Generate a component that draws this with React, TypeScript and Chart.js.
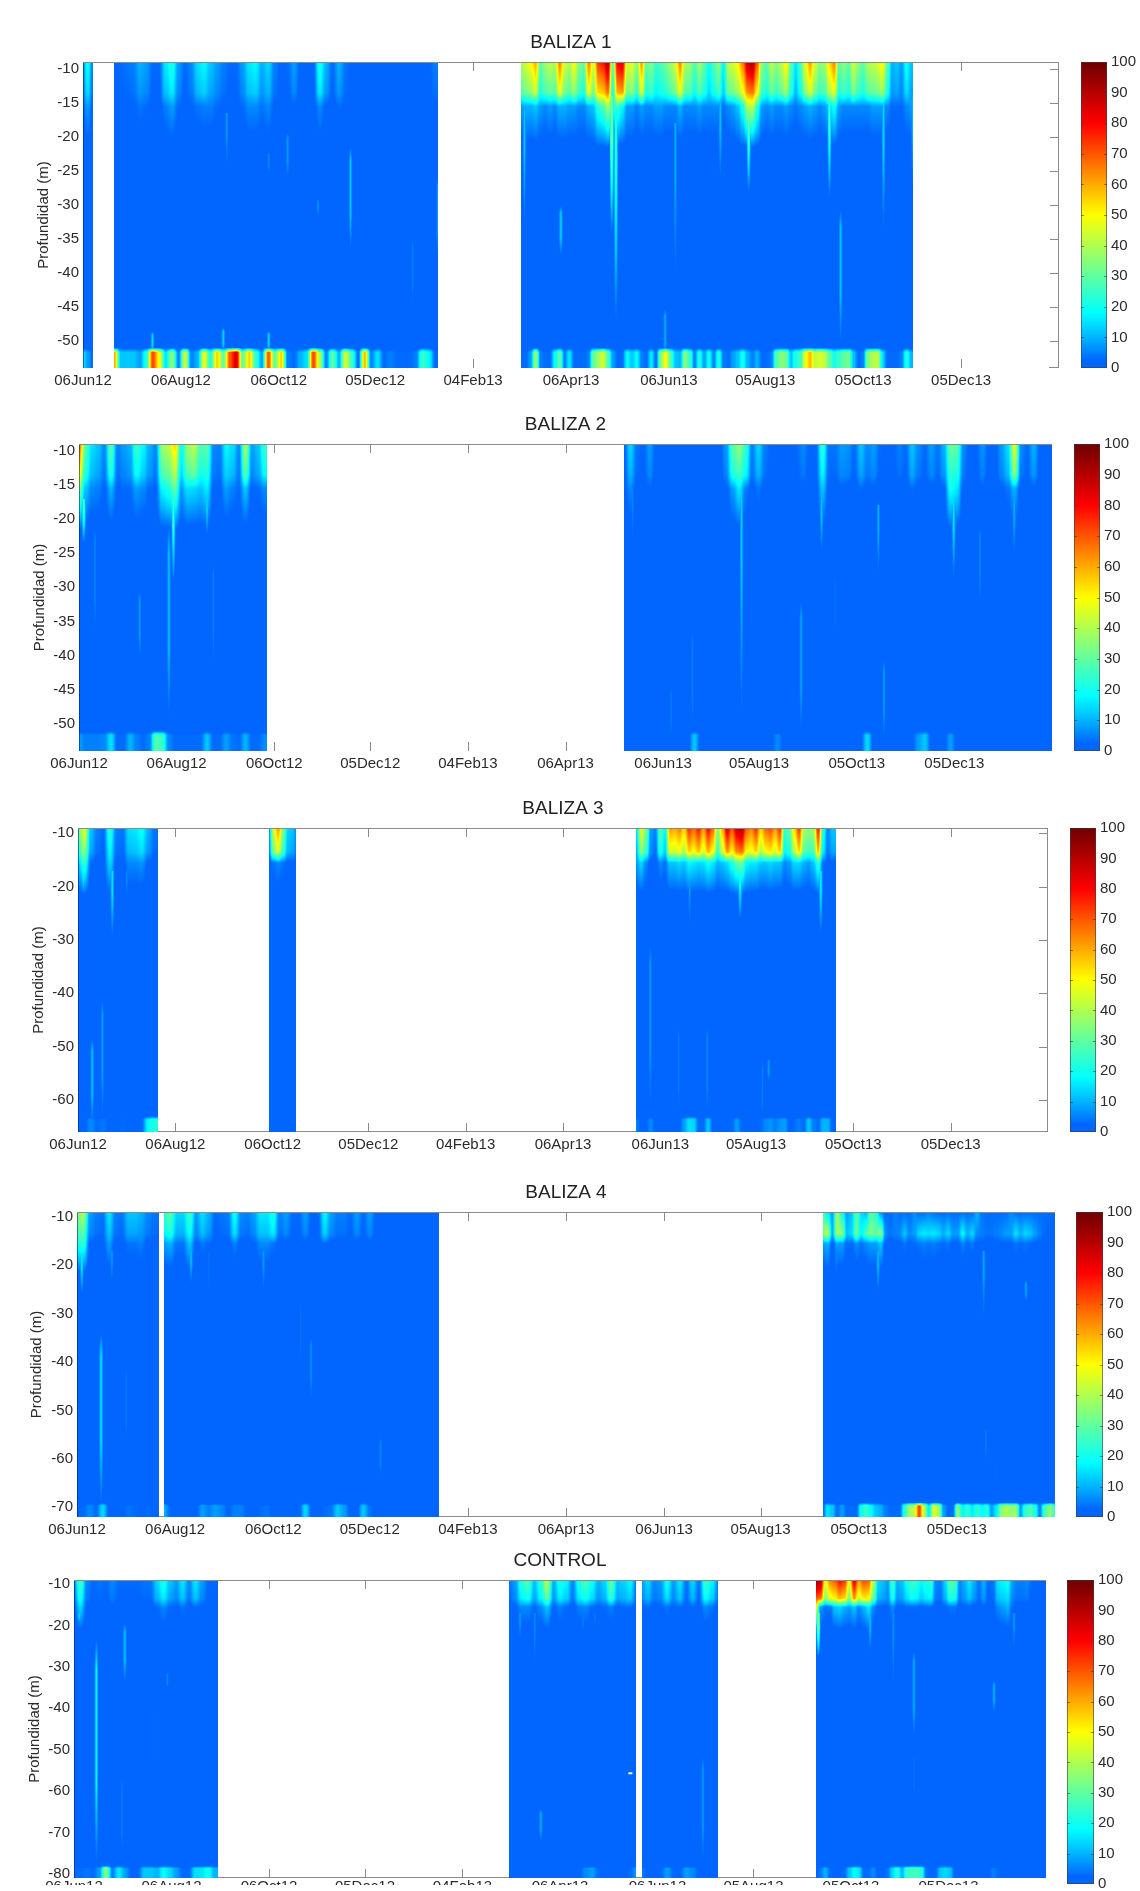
import React, { useEffect, useRef } from "react";
import { Chart, registerables } from "chart.js";

Chart.register(...registerables);

const FONT = "'Liberation Sans', Arial, sans-serif";
const TEXT = "#2b2b2b";
const FRAME = "#8a8a8a";

// ---- axes ----
const tickDays = [0, 61, 122, 182, 243, 304, 365, 425, 486, 547];
const tickDates = ["06Jun12", "06Aug12", "06Oct12", "05Dec12", "04Feb13", "06Apr13", "06Jun13", "05Aug13", "05Oct13", "05Dec13"];
const depthTicks5 = [-10, -15, -20, -25, -30, -35, -40, -45, -50];
const depthTicks10a = [-10, -20, -30, -40, -50, -60];
const depthTicks10b = [-10, -20, -30, -40, -50, -60, -70];
const depthTicks10c = [-10, -20, -30, -40, -50, -60, -70, -80];
const colorTicks = [0, 10, 20, 30, 40, 50, 60, 70, 80, 90, 100];

// ---- colour scale: [value, r, g, b] ----
const colorStops = [
  [0, 0, 102, 255], [2.5, 0, 102, 255], [10, 0, 180, 255], [18, 0, 255, 255], [34, 128, 255, 128],
  [50, 255, 255, 0], [65, 255, 128, 0], [80, 255, 0, 0], [100, 110, 0, 0],
];

// ---- BALIZA 1 ----
const b1aTop = [8, 20, 5];
const b1aUpper = [3, 8, 2];
const b1aFloor = [15, 8, 3];
const b1bTop = [2, 3, 4, 5, 10, 8, 3, 3, 16, 22, 8, 3, 6, 15, 18, 12, 8, 5, 3, 3, 8, 16, 18, 10, 14, 5, 2, 3, 8, 2, 2, 2, 22, 10, 3, 10, 4, 2, 2, 2, 2, 2, 2, 2, 2, 2, 2, 2, 2, 2, 5];
const b1bUpper = [1, 1, 2, 2, 4, 3, 1, 1, 5, 8, 3, 1, 2, 4, 5, 5, 3, 2, 1, 1, 3, 6, 6, 4, 6, 2, 1, 1, 2, 1, 1, 1, 6, 2, 1, 3, 2, 1, 1, 1, 1, 1, 1, 1, 1, 1, 1, 1, 1, 1, 2];
const b1bFloor = [60, 12, 12, 12, 8, 22, 72, 50, 15, 36, 5, 45, 5, 10, 48, 22, 55, 30, 70, 85, 30, 55, 25, 8, 70, 30, 55, 5, 3, 10, 15, 72, 40, 5, 30, 10, 45, 25, 3, 58, 5, 15, 3, 5, 3, 3, 3, 5, 25, 18, 3];
const b1bStreaks = [[127.5, -19, -27, 8], [166.7, -21, -38, 12], [89.6, -16.5, -27, 8], [115.7, -22, -26, 6], [146.4, -29, -32, 7], [43.3, -48.6, -52, 14], [87.4, -48, -52, 14], [115.7, -48.5, -52, 14], [205.3, -34, -47, 5], [221, -25, -40, 8]];
const b1cTop = [40, 45, 50, 60, 30, 38, 42, 40, 65, 45, 40, 50, 35, 30, 65, 45, 75, 78, 92, 30, 82, 85, 45, 48, 35, 62, 30, 35, 25, 28, 32, 38, 45, 65, 40, 38, 28, 38, 30, 20, 28, 36, 18, 42, 45, 52, 66, 88, 92, 70, 35, 30, 42, 35, 42, 52, 30, 15, 28, 48, 62, 45, 35, 38, 55, 65, 30, 36, 30, 45, 35, 30, 40, 42, 45, 52, 30, 10, 12, 8, 20, 12];
const b1cUpper = [8, 10, 10, 12, 8, 6, 8, 6, 10, 10, 8, 8, 6, 6, 10, 12, 24, 28, 38, 22, 26, 18, 8, 8, 5, 8, 6, 6, 8, 8, 6, 6, 6, 10, 6, 6, 6, 8, 6, 6, 6, 6, 4, 6, 8, 12, 22, 40, 42, 24, 8, 6, 8, 6, 6, 8, 6, 4, 6, 8, 10, 8, 6, 8, 14, 20, 8, 6, 6, 6, 6, 6, 6, 8, 8, 8, 6, 3, 3, 3, 6, 8];
const b1cFloor = [3, 3, 8, 38, 5, 3, 3, 18, 30, 5, 16, 3, 3, 3, 5, 30, 38, 45, 28, 8, 3, 3, 18, 12, 18, 5, 3, 16, 3, 35, 50, 28, 12, 10, 35, 25, 5, 22, 8, 20, 5, 22, 5, 3, 8, 12, 20, 10, 5, 10, 3, 3, 5, 28, 35, 32, 12, 22, 25, 48, 58, 42, 45, 42, 30, 20, 25, 30, 32, 12, 3, 5, 35, 40, 42, 15, 3, 3, 3, 5, 22, 10];
const b1cStreaks = [[329.4, -14, -35, 40], [332, -14, -50, 26], [414.7, -14, -29, 35], [465, -14, -30, 26], [297.7, -30, -38, 14], [397, -15, -28, 12], [369, -18, -45, 10], [362.6, -45, -54, 10], [472, -30, -52, 12], [498.7, -15, -36, 14], [275, -16, -35, 12], [517, -14, -30, 12]];

// ---- BALIZA 2 ----
const b2aTop = [70, 30, 15, 12, 6, 30, 5, 8, 10, 26, 18, 10, 6, 38, 42, 55, 20, 38, 42, 28, 30, 6, 5, 18, 15, 6, 40, 8, 12, 25];
const b2aUpper = [35, 12, 6, 5, 2, 10, 2, 3, 3, 8, 6, 3, 2, 18, 22, 30, 8, 15, 14, 12, 16, 2, 2, 8, 5, 3, 12, 2, 3, 6];
const b2aFloor = [8, 5, 5, 5, 6, 15, 3, 3, 10, 5, 3, 5, 28, 25, 6, 3, 3, 3, 3, 3, 12, 3, 3, 8, 4, 3, 10, 3, 3, 6];
const b2aStreaks = [[56.2, -20, -52, 12], [38, -30, -42, 8], [10, -20, -40, 6], [59, -17, -30, 25], [80, -17, -23, 15], [84, -25, -45, 5], [3, -17, -24, 30]];
const b2bTop = [2, 14, 4, 2, 8, 2, 1, 1, 1, 1, 1, 1, 1, 1, 1, 2, 8, 30, 36, 25, 5, 14, 5, 2, 1, 1, 1, 3, 6, 2, 3, 24, 4, 4, 8, 7, 3, 12, 6, 8, 3, 2, 2, 5, 3, 12, 6, 3, 8, 4, 10, 32, 30, 6, 2, 2, 7, 2, 2, 8, 15, 48, 6, 3, 10, 2, 2];
const b2bUpper = [1, 6, 1, 1, 2, 1, 0, 0, 0, 0, 0, 0, 0, 0, 0, 0, 2, 8, 16, 5, 1, 4, 1, 0, 0, 0, 0, 1, 1, 0, 1, 12, 1, 1, 2, 1, 0, 3, 1, 2, 0, 0, 0, 1, 0, 3, 1, 0, 1, 1, 2, 20, 16, 1, 0, 0, 2, 0, 0, 2, 4, 10, 1, 0, 2, 0, 0];
const b2bFloor = [1, 1, 1, 1, 1, 1, 1, 1, 1, 1, 1, 12, 1, 1, 1, 1, 1, 1, 1, 1, 1, 1, 1, 2, 6, 1, 1, 1, 1, 1, 1, 1, 1, 1, 1, 1, 1, 2, 14, 1, 1, 1, 1, 1, 1, 2, 8, 12, 2, 1, 1, 8, 1, 1, 1, 1, 1, 1, 1, 1, 1, 1, 1, 1, 1, 1, 1];
const b2bStreaks = [[414, -14, -54, 13], [451.2, -31, -54, 9], [499.5, -18, -30, 10], [464, -17, -26, 12], [546.6, -17, -30, 16], [563, -20, -35, 6], [383.3, -35, -54, 5], [503, -40, -54, 8], [472.4, -27, -40, 4], [370, -44, -54, 5], [584.4, -17, -27, 10], [346, -14, -27, 6]];

// ---- BALIZA 3 ----
const b3aTop = [30, 48, 12, 5, 3, 24, 5, 4, 15, 16, 20, 10, 4];
const b3aUpper = [12, 25, 3, 1, 1, 14, 2, 1, 6, 6, 7, 2, 1];
const b3aFloor = [2, 2, 6, 3, 4, 2, 2, 3, 2, 2, 3, 18, 22];
const b3aStreaks = [[3.3, -17, -22, 18], [21.5, -17, -31, 16], [8.9, -48, -66, 12], [15.3, -40, -66, 8], [30.6, -17, -24, 6]];
const b3bTop = [5, 45, 62, 35, 14, 12, 5];
const b3bUpper = [1, 4, 6, 4, 1, 2, 1];
const b3bFloor = [2, 2, 2, 2, 2, 2, 2];
const b3cTop = [15, 48, 35, 8, 5, 30, 18, 62, 60, 65, 55, 75, 68, 78, 62, 80, 68, 35, 60, 85, 70, 88, 92, 70, 65, 75, 55, 68, 72, 62, 75, 25, 30, 55, 74, 40, 36, 38, 78, 22, 6, 12];
const b3cUpper = [8, 14, 6, 1, 1, 6, 4, 12, 12, 14, 12, 18, 16, 14, 15, 20, 16, 10, 12, 15, 22, 30, 32, 18, 16, 16, 12, 12, 14, 12, 12, 6, 8, 14, 14, 10, 8, 12, 24, 4, 1, 2];
const b3cFloor = [5, 2, 2, 6, 2, 2, 2, 2, 2, 2, 8, 15, 14, 3, 3, 12, 2, 2, 2, 2, 3, 8, 3, 2, 2, 2, 3, 6, 7, 5, 7, 8, 2, 3, 5, 3, 12, 5, 3, 10, 10, 2];
const b3cStreaks = [[415, -17, -27, 22], [465.6, -17, -30, 18], [383.4, -17, -30, 8], [358.7, -29, -66, 8], [376.5, -45, -66, 5], [394.4, -45, -66, 6], [433, -52, -57, 8], [429, -52, -66, 5]];

// ---- BALIZA 4 ----
const b4aTop = [35, 40, 8, 5, 4, 16, 5, 4, 12, 12, 10, 6, 4];
const b4aUpper = [22, 24, 2, 1, 1, 8, 1, 1, 4, 4, 5, 1, 1];
const b4aFloor = [2, 3, 6, 3, 14, 2, 2, 2, 4, 3, 2, 3, 2];
const b4aStreaks = [[3, -17, -27, 18], [15, -33, -72, 16], [30.6, -40, -60, 5], [21.7, -17, -25, 8]];
const b4bTop = [24, 30, 14, 14, 26, 8, 15, 10, 3, 4, 5, 20, 6, 5, 8, 16, 16, 22, 5, 8, 3, 3, 8, 2, 3, 18, 8, 5, 5, 3, 8, 3, 8, 2, 2, 2, 2, 2, 2, 2, 2, 2, 2];
const b4bUpper = [8, 10, 4, 4, 12, 2, 4, 3, 1, 1, 1, 5, 1, 1, 2, 6, 6, 4, 1, 1, 1, 1, 1, 1, 1, 3, 1, 1, 1, 1, 1, 1, 1, 1, 1, 1, 1, 1, 1, 1, 1, 1, 1];
const b4bFloor = [10, 3, 1, 1, 1, 2, 8, 5, 8, 6, 2, 5, 5, 2, 2, 3, 4, 2, 1, 2, 1, 1, 14, 2, 1, 3, 4, 12, 8, 2, 1, 12, 4, 1, 1, 1, 1, 1, 1, 1, 1, 1, 2];
const b4bStreaks = [[70.9, -17, -25, 12], [145.5, -34, -50, 7], [139, -26, -45, 4], [188.6, -55, -65, 6], [116, -17, -27, 8], [82, -17, -35, 4]];
const b4cTop = [28, 15, 8, 38, 20, 8, 12, 28, 14, 10, 28, 24, 6, 3, 3, 5, 3, 3, 3, 6, 3, 3, 5, 3, 3, 3, 3, 3, 3, 3, 3, 3, 10, 4, 3, 3, 3, 3, 3, 6, 3, 3, 3, 3, 3, 3, 3, 3, 3];
const b4cBand = [35, 42, 10, 38, 36, 12, 14, 32, 18, 28, 34, 30, 36, 6, 4, 5, 6, 12, 6, 8, 14, 16, 15, 16, 14, 10, 14, 8, 8, 18, 10, 14, 6, 5, 4, 4, 5, 6, 8, 8, 15, 10, 14, 12, 8, 5, 3, 2, 2];
const b4cUpper = [8, 10, 2, 8, 8, 3, 3, 6, 4, 6, 8, 8, 12, 2, 1, 2, 2, 4, 2, 3, 4, 5, 4, 5, 4, 3, 4, 2, 2, 5, 3, 4, 2, 2, 1, 1, 2, 2, 2, 2, 4, 3, 4, 3, 2, 2, 1, 1, 1];
const b4cFloor = [3, 15, 12, 3, 8, 3, 3, 3, 20, 25, 18, 12, 10, 5, 3, 3, 3, 24, 38, 42, 72, 42, 16, 46, 40, 8, 3, 3, 36, 18, 24, 16, 24, 18, 22, 8, 16, 34, 40, 36, 38, 8, 24, 28, 22, 5, 26, 36, 26];
const b4cStreaks = [[498, -17, -27, 12], [563.7, -17, -34, 9], [590, -23, -28, 9], [565, -53, -62, 5], [571, -60, -66, 3], [472, -17, -24, 6]];

// ---- CONTROL ----
const c0aTop = [6, 28, 6, 3, 4, 3, 6, 3, 3, 3, 3, 4, 4, 14, 22, 12, 8, 16, 6, 16, 8, 3, 2];
const c0aUpper = [2, 14, 2, 1, 1, 1, 2, 1, 1, 1, 1, 1, 1, 3, 6, 3, 2, 4, 1, 3, 2, 1, 1];
const c0aFloor = [3, 3, 4, 3, 8, 36, 5, 16, 8, 2, 2, 12, 12, 10, 18, 14, 8, 3, 3, 15, 15, 20, 10];
const c0aStreaks = [[14, -22, -81, 18], [31.8, -19, -35, 12], [3.3, -17, -20, 15], [58.4, -31, -36, 6], [30, -55, -80, 5], [50.4, -38, -60, 3]];
const c0bTop = [4, 8, 24, 28, 12, 24, 42, 10, 22, 18, 6, 22, 28, 20, 10, 14, 32, 12, 14, 18, 4];
const c0bUpper = [1, 2, 6, 6, 3, 6, 12, 2, 5, 3, 1, 5, 6, 3, 2, 3, 5, 2, 3, 3, 1];
const c0bFloor = [2, 2, 2, 2, 2, 2, 2, 2, 2, 2, 2, 2, 6, 8, 3, 2, 2, 2, 2, 3, 8];
const c0bStreaks = [[288.2, -17, -35, 6], [279, -17, -25, 8], [292, -64, -73, 10], [318.3, -17, -25, 5], [325.9, -17, -22, 5]];
const c0cTop = [8, 14, 6, 8, 20, 8, 16, 4, 14, 4, 26, 18, 6];
const c0cUpper = [2, 3, 1, 2, 4, 2, 3, 1, 3, 1, 6, 4, 1];
const c0cFloor = [5, 2, 2, 2, 8, 3, 2, 8, 6, 2, 2, 2, 2];
const c0cStreaks = [[393.4, -50, -81, 8]];
const c0dTop = [96, 92, 48, 65, 70, 80, 75, 48, 85, 62, 72, 70, 42, 14, 12, 8, 28, 10, 12, 20, 26, 24, 18, 22, 24, 6, 5, 14, 30, 28, 6, 10, 16, 10, 4, 10, 3, 4, 16, 18, 20, 8, 5, 5, 6, 3, 2, 2, 2];
const c0dUpper = [50, 8, 4, 4, 12, 14, 10, 8, 12, 6, 10, 16, 6, 2, 2, 2, 6, 2, 2, 3, 3, 3, 2, 3, 3, 1, 1, 2, 4, 4, 1, 2, 2, 1, 1, 2, 1, 2, 6, 8, 10, 3, 1, 1, 1, 1, 1, 1, 1];
const c0dFloor = [2, 4, 10, 3, 2, 2, 3, 12, 18, 16, 3, 3, 6, 2, 2, 4, 14, 22, 10, 24, 26, 26, 24, 4, 2, 3, 12, 14, 12, 2, 2, 2, 2, 2, 2, 2, 2, 5, 3, 2, 2, 2, 2, 2, 2, 2, 2, 2, 2];
const c0dStreaks = [[465.6, -17, -28, 40], [498, -17, -28, 12], [512.5, -17, -40, 7], [525.4, -25, -50, 10], [575.5, -33, -42, 10], [588, -17, -28, 8], [510.4, -62, -75, 3], [525.4, -50, -65, 4]];
const c0Holes = [[348, -55.7]];

type Seg = { start: number; end: number; step: number; top: number[]; band?: number[]; upper: number[]; floor: number[]; streaks?: number[][] };
type Panel = {
  title: string; left: number; right: number; top: number; bottom: number; depthMin: number; ticks: number[];
  barLeft: number; barWidth: number; titleAxis: number; bottomLine: boolean; labelPad: number; segs: Seg[]; holes?: number[][];
};

const PANELS: Panel[] = [
  { title: "BALIZA 1", left: 83, right: 1059, top: 62, bottom: 368, depthMin: -54, ticks: depthTicks5, barLeft: 1081, barWidth: 26, titleAxis: 44, bottomLine: false, labelPad: 4,
    segs: [
      { start: 0, end: 6.5, step: 3, top: b1aTop, upper: b1aUpper, floor: b1aFloor },
      { start: 19.5, end: 221, step: 4, top: b1bTop, upper: b1bUpper, floor: b1bFloor, streaks: b1bStreaks },
      { start: 273, end: 517, step: 3, top: b1cTop, upper: b1cUpper, floor: b1cFloor, streaks: b1cStreaks },
    ] },
  { title: "BALIZA 2", left: 79, right: 1052, top: 444, bottom: 751, depthMin: -54, ticks: depthTicks5, barLeft: 1074, barWidth: 26, titleAxis: 40, bottomLine: false, labelPad: 4,
    segs: [
      { start: 0, end: 117.6, step: 4, top: b2aTop, upper: b2aUpper, floor: b2aFloor, streaks: b2aStreaks },
      { start: 340.6, end: 608, step: 4, top: b2bTop, upper: b2bUpper, floor: b2bFloor, streaks: b2bStreaks },
    ] },
  { title: "BALIZA 3", left: 78, right: 1048, top: 828, bottom: 1132, depthMin: -66, ticks: depthTicks10a, barLeft: 1070, barWidth: 26, titleAxis: 39, bottomLine: true, labelPad: 4,
    segs: [
      { start: 0, end: 50, step: 4, top: b3aTop, upper: b3aUpper, floor: b3aFloor, streaks: b3aStreaks },
      { start: 119.5, end: 136.8, step: 3, top: b3bTop, upper: b3bUpper, floor: b3bFloor },
      { start: 350, end: 475, step: 3, top: b3cTop, upper: b3cUpper, floor: b3cFloor, streaks: b3cStreaks },
    ] },
  { title: "BALIZA 4", left: 77, right: 1055, top: 1212, bottom: 1517, depthMin: -72, ticks: depthTicks10b, barLeft: 1076, barWidth: 27, titleAxis: 37, bottomLine: true, labelPad: 4,
    segs: [
      { start: 0, end: 51, step: 4, top: b4aTop, upper: b4aUpper, floor: b4aFloor, streaks: b4aStreaks },
      { start: 54, end: 225, step: 4, top: b4bTop, upper: b4bUpper, floor: b4bFloor, streaks: b4bStreaks },
      { start: 463.6, end: 608, step: 3, top: b4cTop, band: b4cBand, upper: b4cUpper, floor: b4cFloor, streaks: b4cStreaks },
    ] },
  { title: "CONTROL", left: 74, right: 1046, top: 1580, bottom: 1884, depthMin: -81, ticks: depthTicks10c, barLeft: 1067, barWidth: 27, titleAxis: 35, bottomLine: true, labelPad: 0, holes: c0Holes,
    segs: [
      { start: 0, end: 90, step: 4, top: c0aTop, upper: c0aUpper, floor: c0aFloor, streaks: c0aStreaks },
      { start: 272, end: 351.4, step: 4, top: c0bTop, upper: c0bUpper, floor: c0bFloor, streaks: c0bStreaks },
      { start: 355, end: 402.7, step: 4, top: c0cTop, upper: c0cUpper, floor: c0cFloor, streaks: c0cStreaks },
      { start: 464, end: 608, step: 3, top: c0dTop, upper: c0dUpper, floor: c0dFloor, streaks: c0dStreaks },
    ] },
];

function colorOf(v: number): number[] {
  const c = Math.max(0, Math.min(100, v));
  for (let i = 1; i < colorStops.length; i++) {
    const a = colorStops[i - 1];
    const b = colorStops[i];
    if (c <= b[0]) {
      const t = (c - a[0]) / (b[0] - a[0]);
      return [a[1] + (b[1] - a[1]) * t, a[2] + (b[2] - a[2]) * t, a[3] + (b[3] - a[3]) * t];
    }
  }
  return colorStops[colorStops.length - 1].slice(1);
}

const DEPTH_BAND = -13.5;
const DEPTH_UPPER = -15.5;
const DEPTH_FADE = -22;
const FLOOR_HEIGHT = 2.3;
const BAND_KEEP = 0.72;
const STREAK_HALF = 1.6;

// value of one column of a deployment at a given depth (reads between the recorded levels)
function columnValue(s: Seg, i: number, depth: number, depthMin: number): number {
  const top = s.top[i] ?? 0;
  const band = s.band ? s.band[i] ?? 0 : top * BAND_KEEP;
  const upper = s.upper[i] ?? 0;
  const floor = s.floor[i] ?? 0;
  const floorEdge = depthMin + FLOOR_HEIGHT;
  if (depth <= floorEdge) return floor;
  if (depth < floorEdge + 0.7) return floor * (floorEdge + 0.7 - depth) / 0.7;
  if (depth >= DEPTH_BAND) return band + (top - band) * ((depth - DEPTH_BAND) / (-9 - DEPTH_BAND));
  if (depth >= DEPTH_UPPER) return upper + (band - upper) * ((depth - DEPTH_UPPER) / (DEPTH_BAND - DEPTH_UPPER));
  if (depth >= DEPTH_FADE) return upper * ((depth - DEPTH_FADE) / (DEPTH_UPPER - DEPTH_FADE));
  return 0;
}

function streakValue(st: number[], day: number, depth: number): number {
  const [d, from, to, v] = st;
  const w = 1 - Math.abs(day - d) / STREAK_HALF;
  if (w <= 0 || depth > from || depth < to) return 0;
  const t = (from - depth) / (from - to);
  const attached = from >= -18;
  const along = attached ? Math.min(1, (1 - t) / 0.7) : Math.min(1, t / 0.15) * Math.min(1, (1 - t) / 0.4);
  return v * w * along;
}

function paintHeat(chart: any, p: Panel) {
  const area = chart.chartArea;
  const xs = chart.scales.x;
  const ys = chart.scales.y;
  const W = Math.round(area.right - area.left);
  const H = Math.round(area.bottom - area.top);
  const off = document.createElement("canvas");
  off.width = W;
  off.height = H;
  const octx = off.getContext("2d")!;
  const img = octx.createImageData(W, H);
  for (let px = 0; px < W; px++) {
    const day = xs.getValueForPixel(area.left + px + 0.5);
    const seg = p.segs.find((s) => day >= s.start && day <= s.end);
    if (!seg) continue;
    const f = (day - seg.start) / seg.step;
    const i0 = Math.floor(f);
    const raw = f - i0;
    const tf = raw * raw * (3 - 2 * raw);
    const near = (seg.streaks || []).filter((st) => Math.abs(st[0] - day) < STREAK_HALF);
    for (let py = 0; py < H; py++) {
      const depth = ys.getValueForPixel(area.top + py + 0.5);
      const a = columnValue(seg, i0, depth, p.depthMin);
      const b = columnValue(seg, Math.min(i0 + 1, seg.top.length - 1), depth, p.depthMin);
      let v = a + (b - a) * tf;
      for (const st of near) v = Math.max(v, streakValue(st, day, depth));
      const c = colorOf(v);
      const o = (py * W + px) * 4;
      img.data[o] = c[0];
      img.data[o + 1] = c[1];
      img.data[o + 2] = c[2];
      img.data[o + 3] = 255;
    }
  }
  octx.putImageData(img, 0, 0);
  for (const h of p.holes || []) {
    octx.fillStyle = "#fff";
    octx.fillRect(xs.getPixelForValue(h[0]) - area.left - 2, ys.getPixelForValue(h[1]) - area.top - 1, 4, 2);
  }
  const ctx = chart.ctx;
  ctx.save();
  ctx.beginPath();
  ctx.rect(area.left, area.top, W, H);
  ctx.clip();
  ctx.filter = "blur(0.6px)";
  ctx.drawImage(off, area.left, area.top);
  ctx.restore();
}

function hLine(ctx: any, x0: number, x1: number, y: number) {
  ctx.beginPath();
  ctx.moveTo(x0, Math.round(y) + 0.5);
  ctx.lineTo(x1, Math.round(y) + 0.5);
  ctx.stroke();
}
function vLine(ctx: any, x: number, y0: number, y1: number) {
  ctx.beginPath();
  ctx.moveTo(Math.round(x) + 0.5, y0);
  ctx.lineTo(Math.round(x) + 0.5, y1);
  ctx.stroke();
}

const PLOT_PAD_TOP = 33;

function HeatPanel({ p }: { p: Panel }) {
  const ref = useRef<HTMLCanvasElement>(null);
  useEffect(() => {
    const plugin = {
      id: "heatFrame",
      beforeDatasetsDraw(chart: any) {
        const { ctx, chartArea: a, scales } = chart;
        ctx.save();
        ctx.strokeStyle = FRAME;
        ctx.lineWidth = 1;
        if (p.bottomLine) hLine(ctx, a.left, a.right, a.bottom - 1);
        else hLine(ctx, a.right - 10, a.right, a.bottom - 1);
        vLine(ctx, a.right - 1, a.top, a.bottom);
        for (const d of tickDays) {
          const x = scales.x.getPixelForValue(d);
          vLine(ctx, x, a.top, a.top + 9);
          vLine(ctx, x, a.bottom - 9, a.bottom);
        }
        for (const v of p.ticks) {
          const y = scales.y.getPixelForValue(v);
          hLine(ctx, a.right - 9, a.right, y);
        }
        ctx.restore();
        paintHeat(chart, p);
        ctx.save();
        ctx.strokeStyle = FRAME;
        hLine(ctx, a.left, a.right, a.top);
        ctx.strokeStyle = "rgba(0,20,110,0.55)";
        vLine(ctx, a.left, a.top + 1, a.bottom);
        ctx.restore();
      },
    };
    const columns = p.segs.flatMap((s) => s.top.map((v, i) => ({ x: s.start + i * s.step, y: -9, v })));
    const chart = new Chart(ref.current!, {
      type: "scatter",
      data: { datasets: [{ label: p.title, data: columns, pointRadius: 0 }] },
      plugins: [plugin],
      options: {
        animation: false,
        responsive: false,
        events: [],
        layout: { padding: { left: 0, right: 2, top: 0, bottom: 0 } },
        plugins: {
          legend: { display: false },
          tooltip: { enabled: false },
          title: {
            display: true,
            text: p.title,
            fullSize: false,
            color: "#222",
            font: { family: FONT, size: 19, weight: "normal", lineHeight: 1 },
            padding: { top: 4, bottom: 10 },
          },
        },
        scales: {
          x: {
            type: "linear",
            min: 0,
            max: 608,
            afterBuildTicks: (s: any) => { s.ticks = tickDays.map((value) => ({ value })); },
            afterFit: (s: any) => { s.height = Math.min(30, 1891 - p.bottom); },
            grid: { display: false, drawTicks: false },
            border: { display: false },
            ticks: {
              autoSkip: false, maxRotation: 0, minRotation: 0, padding: p.labelPad, color: TEXT,
              font: { family: FONT, size: 15 },
              callback: (v: any) => tickDates[tickDays.indexOf(Number(v))] ?? "",
            },
          },
          y: {
            type: "linear",
            min: p.depthMin,
            max: -9,
            afterBuildTicks: (s: any) => { s.ticks = p.ticks.map((value) => ({ value })); },
            afterFit: (s: any) => { s.width = p.left; },
            grid: { display: false, drawTicks: false },
            border: { display: false },
            title: {
              display: true,
              text: "Profundidad (m)",
              color: TEXT,
              font: { family: FONT, size: 15, lineHeight: 1 },
              padding: { top: p.titleAxis - 8, bottom: 0 },
            },
            ticks: {
              autoSkip: false, padding: 4, color: TEXT,
              font: { family: FONT, size: 15 },
              callback: (v: any) => String(v),
            },
          },
        },
      } as any,
    });
    return () => chart.destroy();
  }, [p]);
  const h = PLOT_PAD_TOP + (p.bottom - p.top) + Math.min(30, 1891 - p.bottom);
  return (
    <canvas
      ref={ref}
      width={p.right + 2}
      height={h}
      style={{ position: "absolute", left: 0, top: p.top - PLOT_PAD_TOP, width: p.right + 2, height: h }}
    />
  );
}

const BAR_PAD = 8;
const BAR_AXIS = 36;

function ColorBar({ p }: { p: Panel }) {
  const ref = useRef<HTMLCanvasElement>(null);
  useEffect(() => {
    const ticksPlugin = {
      id: "barTicks",
      afterDatasetsDraw(chart: any) {
        const { ctx, chartArea: a, scales } = chart;
        ctx.save();
        ctx.strokeStyle = "rgba(60,60,60,0.6)";
        ctx.lineWidth = 1;
        for (const v of colorTicks.slice(1, -1)) {
          const y = scales.y.getPixelForValue(v);
          hLine(ctx, a.left, a.left + 3, y);
          hLine(ctx, a.right - 3, a.right, y);
        }
        ctx.strokeRect(a.left + 0.5, a.top + 0.5, a.right - a.left - 1, a.bottom - a.top - 1);
        ctx.restore();
      },
    };
    const chart = new Chart(ref.current!, {
      type: "bar",
      data: {
        labels: ["%"],
        datasets: [{
          data: [[0, 100]],
          barPercentage: 1,
          categoryPercentage: 1,
          borderWidth: 0,
          backgroundColor: (c: any) => {
            const { chartArea, ctx, scales } = c.chart;
            if (!chartArea) return "#0066ff";
            const g = ctx.createLinearGradient(0, scales.y.getPixelForValue(0), 0, scales.y.getPixelForValue(100));
            for (const s of colorStops) g.addColorStop(s[0] / 100, `rgb(${s[1]},${s[2]},${s[3]})`);
            return g;
          },
        }],
      },
      plugins: [ticksPlugin],
      options: {
        animation: false,
        responsive: false,
        events: [],
        layout: { padding: { top: BAR_PAD, bottom: BAR_PAD, left: 0, right: 0 } },
        plugins: { legend: { display: false }, tooltip: { enabled: false } },
        scales: {
          x: { display: false },
          y: {
            position: "right",
            min: 0,
            max: 100,
            afterBuildTicks: (s: any) => { s.ticks = colorTicks.map((value) => ({ value })); },
            afterFit: (s: any) => { s.width = BAR_AXIS; s.paddingTop = 0; s.paddingBottom = 0; },
            grid: { display: false, drawTicks: false },
            border: { display: false },
            ticks: { autoSkip: false, padding: 4, color: TEXT, font: { family: FONT, size: 15 }, callback: (v: any) => String(v) },
          },
        },
      } as any,
    });
    return () => chart.destroy();
  }, [p]);
  const w = p.barWidth + BAR_AXIS;
  const h = p.bottom - p.top + BAR_PAD * 2;
  return (
    <canvas
      ref={ref}
      width={w}
      height={h}
      style={{ position: "absolute", left: p.barLeft, top: p.top - BAR_PAD, width: w, height: h }}
    />
  );
}

export default function App() {
  useEffect(() => {
    document.body.style.margin = "0";
    document.documentElement.style.overflow = "hidden";
  }, []);
  return (
    <div style={{ position: "relative", width: 1140, height: 1891, overflow: "hidden", background: "#fff" }}>
      {PANELS.map((p) => (
        <React.Fragment key={p.title}>
          <HeatPanel p={p} />
          <ColorBar p={p} />
        </React.Fragment>
      ))}
    </div>
  );
}
